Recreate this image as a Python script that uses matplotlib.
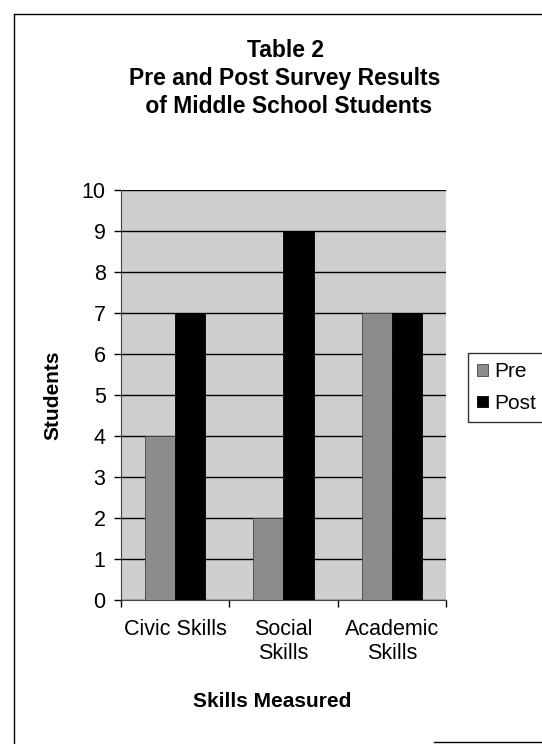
import numpy as np
import matplotlib.pyplot as plt
from matplotlib.lines import Line2D

plt.rcParams['font.family'] = ['Liberation Sans', 'DejaVu Sans']

# chart data
categories = ["Civic Skills", "Social\nSkills", "Academic\nSkills"]
pre = [4, 2, 7]
post = [7, 9, 7]

fig = plt.figure(figsize=(5.42, 7.44), dpi=100)
ax = fig.add_axes([0.223, 0.1935, 0.6, 0.551])
ax.set_facecolor("#cfcfcf")

x = np.arange(len(categories))
w = 0.28
ax.bar(x - w / 2, pre, w, color="#8c8c8c", edgecolor="#444444", linewidth=0.6, label="Pre", zorder=3)
ax.bar(x + w / 2, post, w, color="black", edgecolor="black", linewidth=0.6, label="Post", zorder=3)

ax.set_xlim(-0.5, len(categories) - 0.5)
ax.set_ylim(0, 10)
ax.set_yticks(range(0, 11))
ax.yaxis.grid(True, color="black", linewidth=1.0, zorder=1)
ax.set_axisbelow(True)

# category labels in the middle, tick marks at boundaries
ax.set_xticks(x)
ax.set_xticklabels(categories, fontsize=15.5, linespacing=1.15)
ax.tick_params(axis="x", which="major", length=0, pad=14)
ax.set_xticks(np.arange(-0.5, len(categories)), minor=True)
ax.tick_params(axis="x", which="minor", length=5, width=1, direction="out")
ax.tick_params(axis="y", labelsize=15.5, length=5, width=1, direction="out", pad=6)

for s in ["top", "right"]:
    ax.spines[s].set_visible(False)
ax.spines["left"].set_color("#444444")
ax.spines["bottom"].set_color("#444444")

ax.set_xlabel("Skills Measured", fontsize=15, fontweight="bold")
ax.xaxis.set_label_coords(0.465, -0.225)
ax.set_ylabel("Students", fontsize=15, fontweight="bold")
ax.yaxis.set_label_coords(-0.18, 0.5)

fig.text(0.526, 0.948, "Table 2\nPre and Post Survey Results\n of Middle School Students",
         ha="center", va="top", fontsize=16.5, fontweight="bold", linespacing=1.3)

leg = fig.legend(loc="upper left", bbox_to_anchor=(0.8635, 0.5255), borderaxespad=0,
                 fontsize=15, frameon=True, fancybox=False, edgecolor="black",
                 handlelength=0.5, handleheight=0.5, handletextpad=0.3,
                 labelspacing=0.6, borderpad=0.45)
leg.get_frame().set_linewidth(1.0)

# page border
fig.add_artist(Line2D([0.026, 0.026], [0.0, 0.981], color="black", linewidth=1.0))
fig.add_artist(Line2D([0.026, 1.0], [0.981, 0.981], color="black", linewidth=1.0))
fig.add_artist(Line2D([0.8, 1.0], [0.003, 0.003], color="black", linewidth=1.0))

fig.savefig("out.png", dpi=100, facecolor="white")
